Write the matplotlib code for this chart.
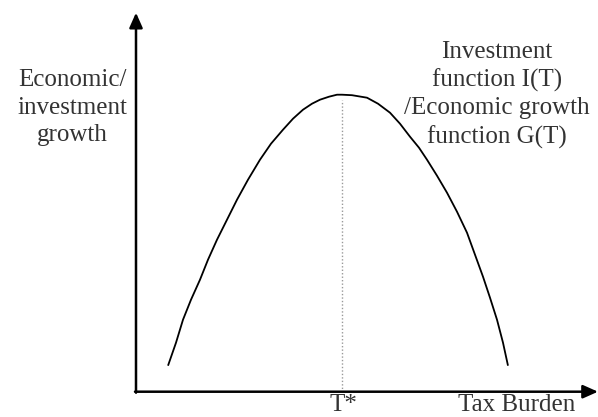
import matplotlib
matplotlib.use("Agg")
import matplotlib.pyplot as plt

# curve (origin at the axis corner)
tax = [32, 40, 47, 55, 64, 72, 81, 91, 101, 112, 124, 135, 147, 157, 167,
       176, 184, 193, 201, 206, 216, 231, 242, 254, 264, 274, 283, 291,
       301, 311, 321, 331, 339, 347, 354, 361, 367, 372]
growth = [26, 49, 72, 92, 112, 132, 152, 172, 192, 212, 232, 248, 262, 273, 282,
          288, 292, 295, 297, 297, 296.5, 294, 288, 279, 268, 255, 244, 232,
          216, 199, 180, 159, 137, 115, 94, 72, 49, 26]
t_star = 206
peak = 297

ylabel_txt = "Economic/\ninvestment\ngrowth"
curve_txt = "Investment\nfunction I(T)\n/Economic growth\nfunction G(T)"
xlabel_txt = "Tax Burden"
tstar_txt = "T*"

plt.rcParams['font.family'] = ['Liberation Serif', 'DejaVu Serif']

fig = plt.figure(figsize=(5.98, 4.17), dpi=100)
ax = fig.add_axes([0, 0, 1, 1])
ax.set_xlim(-136, 462)
ax.set_ylim(-25.3, 391.7)
ax.axis('off')

# axes with arrow heads
arrow = dict(arrowstyle='-|>,head_length=0.9,head_width=0.4', color='black',
             lw=1.8, shrinkA=0, shrinkB=0)
ax.annotate('', xy=(462, 0), xytext=(-1, 0), arrowprops=arrow)
ax.annotate('', xy=(0, 379), xytext=(0, -1), arrowprops=arrow)

ax.plot(tax, growth, color='black', lw=1.3, solid_capstyle='butt')
ax.plot([t_star, t_star], [0, peak - 5], color='#999999', lw=1.0, ls=(0, (1, 1.5)))

tc = '#333333'
fs = 18
ax.text(-64, 284, ylabel_txt, ha='center', va='center', fontsize=fs,
        color=tc, linespacing=1.32)
ax.text(361, 297, curve_txt, ha='center', va='center', fontsize=fs,
        color=tc, linespacing=1.32)
ax.text(t_star + 1, -13, tstar_txt, ha='center', va='center', fontsize=fs, color=tc)
ax.text(381, -13, xlabel_txt, ha='center', va='center', fontsize=fs, color=tc)

fig.savefig('out.png', dpi=100)
